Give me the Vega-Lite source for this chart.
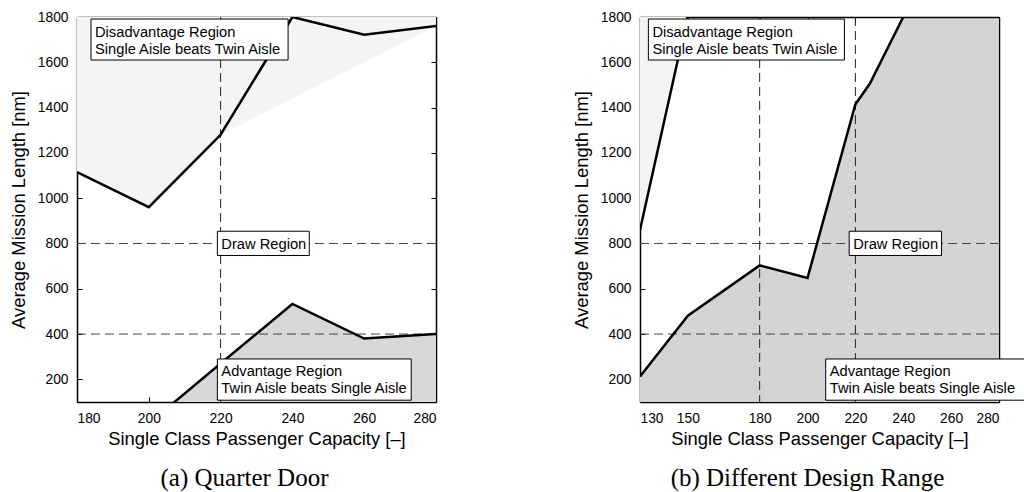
{
  "$schema": "https://vega.github.io/schema/vega-lite/v6.json",
  "background": "white",
  "padding": {"left": 9, "top": 10, "right": 0, "bottom": 0},
  "spacing": 135,
  "config": {
    "font": "Liberation Sans",
    "view": {"stroke": null},
    "axis": {
      "grid": false, "domainColor": "black", "domainWidth": 1.5,
      "tickColor": "black", "tickSize": -5, "labelColor": "black", "titleColor": "black",
      "labelFont": "Liberation Sans", "titleFont": "Liberation Sans",
      "labelFontSize": 13.8, "titleFontSize": 18.4, "titleFontWeight": "normal",
      "labelPadding": 14, "format": "d"
    },
    "axisY": {"titlePadding": 9},
    "axisX": {"titlePadding": 5},
    "title": {"font": "Liberation Serif", "fontSize": 25, "fontWeight": "normal", "color": "black"}
  },
  "datasets": {
    "a_dis_fill": [{"x": 180, "y": 1115}, {"x": 200, "y": 960}, {"x": 220, "y": 1280}, {"x": 280, "y": 1760}],
    "a_dis_line": [{"x": 180, "y": 1115}, {"x": 200, "y": 960}, {"x": 220, "y": 1280}, {"x": 240, "y": 1800}, {"x": 260, "y": 1722}, {"x": 280, "y": 1760}],
    "a_adv": [{"x": 200, "y": 5}, {"x": 220, "y": 270}, {"x": 240, "y": 533}, {"x": 260, "y": 380}, {"x": 280, "y": 400}],
    "a_h": [{"y": 800}, {"y": 400}],
    "a_v": [{"x": 220}],
    "a_ann": [
      {"x1": 183.9, "x2": 238.8, "ylo": 1610, "yhi": 1791, "label": "Disadvantage Region\n\u00a0Single Aisle beats Twin Aisle"},
      {"x1": 219.1, "x2": 244.7, "ylo": 747, "yhi": 854, "label": "Draw Region"},
      {"x1": 219.1, "x2": 273.1, "ylo": 108, "yhi": 290, "label": "Advantage Region\n\u00a0Twin Aisle beats Single Aisle"}
    ],
    "b_dis": [{"x": 130, "y": 860}, {"x": 150, "y": 1810}],
    "b_adv": [{"x": 130, "y": 213}, {"x": 150, "y": 481}, {"x": 180, "y": 703}, {"x": 200, "y": 648}, {"x": 220, "y": 1415}, {"x": 226, "y": 1505}, {"x": 240, "y": 1800}, {"x": 260, "y": 1800}, {"x": 280, "y": 1800}],
    "b_h": [{"y": 800}, {"y": 400}],
    "b_v": [{"x": 180}, {"x": 220}],
    "b_ann": [
      {"x1": 133.5, "x2": 215.4, "ylo": 1610, "yhi": 1791, "label": "Disadvantage Region\n\u00a0Single Aisle beats Twin Aisle"},
      {"x1": 217.4, "x2": 256, "ylo": 747, "yhi": 854, "label": "Draw Region"},
      {"x1": 207.6, "x2": 292, "ylo": 108, "yhi": 290, "label": "Advantage Region\n\u00a0Twin Aisle beats Single Aisle"}
    ]
  },
  "hconcat": [
    {
      "width": 359, "height": 385,
      "title": {"text": "(a) Quarter Door", "orient": "bottom", "dx": -12, "offset": 18},
      "resolve": {"axis": {"x": "independent", "y": "independent"}},
      "layer": [
        {
          "layer": [
            {
              "data": {"name": "a_dis_fill"},
              "mark": {"type": "area", "clip": true, "color": "#f4f4f4"},
              "encoding": {
                "x": {"field": "x", "type": "quantitative", "scale": {"domain": [180, 280], "nice": false, "zero": false},
                      "axis": {"values": [180, 200, 220, 240, 260, 280], "title": "Single Class Passenger Capacity [–]"}},
                "y": {"field": "y", "type": "quantitative", "scale": {"domain": [100, 1800], "nice": false, "zero": false},
                      "axis": {"values": [200, 400, 600, 800, 1000, 1200, 1400, 1600, 1800], "title": "Average Mission Length [nm]"}},
                "y2": {"datum": 1800}
              }
            },
            {
              "data": {"name": "a_adv"},
              "mark": {"type": "area", "clip": true, "color": "#d8d8d8"},
              "encoding": {
                "x": {"field": "x", "type": "quantitative"},
                "y": {"field": "y", "type": "quantitative"},
                "y2": {"datum": 100}
              }
            },
            {
              "data": {"name": "a_h"},
              "mark": {"type": "rule", "color": "#444444", "strokeDash": [9, 5], "strokeWidth": 1},
              "encoding": {"y": {"field": "y", "type": "quantitative"}}
            },
            {
              "data": {"name": "a_v"},
              "mark": {"type": "rule", "color": "#222222", "strokeDash": [9, 5], "strokeWidth": 1},
              "encoding": {"x": {"field": "x", "type": "quantitative"}}
            },
            {
              "data": {"name": "a_dis_line"},
              "mark": {"type": "line", "clip": true, "color": "black", "strokeWidth": 2.5},
              "encoding": {"x": {"field": "x", "type": "quantitative"}, "y": {"field": "y", "type": "quantitative"}}
            },
            {
              "data": {"name": "a_adv"},
              "mark": {"type": "line", "clip": true, "color": "black", "strokeWidth": 2.5},
              "encoding": {"x": {"field": "x", "type": "quantitative"}, "y": {"field": "y", "type": "quantitative"}}
            },
            {
              "data": {"name": "a_ann"},
              "mark": {"type": "rect", "fill": "white", "stroke": "black", "strokeWidth": 1},
              "encoding": {
                "x": {"field": "x1", "type": "quantitative"}, "x2": {"field": "x2"},
                "y": {"field": "yhi", "type": "quantitative"}, "y2": {"field": "ylo"}
              }
            },
            {
              "data": {"name": "a_ann"},
              "mark": {"type": "text", "align": "left", "baseline": "alphabetic", "dx": 4, "dy": 17.5, "lineBreak": "\n", "lineHeight": 17, "fontSize": 14.7, "font": "Liberation Sans", "color": "black"},
              "encoding": {
                "x": {"field": "x1", "type": "quantitative"},
                "y": {"field": "yhi", "type": "quantitative"},
                "text": {"field": "label"}
              }
            }
          ]
        },
        {
          "data": {"name": "a_h"},
          "mark": {"type": "point", "opacity": 0},
          "encoding": {
            "x": {"datum": 200, "type": "quantitative", "axis": {"orient": "top", "labels": false, "title": null, "values": [180, 200, 220, 240, 260, 280]}},
            "y": {"field": "y", "type": "quantitative", "axis": {"orient": "right", "labels": false, "title": null, "values": [200, 400, 600, 800, 1000, 1200, 1400, 1600, 1800]}}
          }
        }
      ]
    },
    {
      "width": 359, "height": 385,
      "title": {"text": "(b) Different Design Range", "orient": "bottom", "dx": -12, "offset": 18},
      "resolve": {"axis": {"x": "independent", "y": "independent"}},
      "layer": [
        {
          "layer": [
            {
              "data": {"name": "b_dis"},
              "mark": {"type": "area", "clip": true, "color": "#f4f4f4"},
              "encoding": {
                "x": {"field": "x", "type": "quantitative", "scale": {"domain": [130, 280], "nice": false, "zero": false},
                      "axis": {"values": [130, 150, 180, 200, 220, 240, 260, 280], "title": "Single Class Passenger Capacity [–]"}},
                "y": {"field": "y", "type": "quantitative", "scale": {"domain": [100, 1800], "nice": false, "zero": false},
                      "axis": {"values": [200, 400, 600, 800, 1000, 1200, 1400, 1600, 1800], "title": "Average Mission Length [nm]"}},
                "y2": {"datum": 1800}
              }
            },
            {
              "data": {"name": "b_adv"},
              "mark": {"type": "area", "clip": true, "color": "#d4d4d4"},
              "encoding": {
                "x": {"field": "x", "type": "quantitative"},
                "y": {"field": "y", "type": "quantitative"},
                "y2": {"datum": 100}
              }
            },
            {
              "data": {"name": "b_h"},
              "mark": {"type": "rule", "color": "#444444", "strokeDash": [9, 5], "strokeWidth": 1},
              "encoding": {"y": {"field": "y", "type": "quantitative"}}
            },
            {
              "data": {"name": "b_v"},
              "mark": {"type": "rule", "color": "#222222", "strokeDash": [9, 5], "strokeWidth": 1},
              "encoding": {"x": {"field": "x", "type": "quantitative"}}
            },
            {
              "data": {"name": "b_dis"},
              "mark": {"type": "line", "clip": true, "color": "black", "strokeWidth": 2.5},
              "encoding": {"x": {"field": "x", "type": "quantitative"}, "y": {"field": "y", "type": "quantitative"}}
            },
            {
              "data": {"name": "b_adv"},
              "mark": {"type": "line", "clip": true, "color": "black", "strokeWidth": 2.5},
              "encoding": {"x": {"field": "x", "type": "quantitative"}, "y": {"field": "y", "type": "quantitative"}}
            },
            {
              "data": {"name": "b_ann"},
              "mark": {"type": "rect", "fill": "white", "stroke": "black", "strokeWidth": 1},
              "encoding": {
                "x": {"field": "x1", "type": "quantitative"}, "x2": {"field": "x2"},
                "y": {"field": "yhi", "type": "quantitative"}, "y2": {"field": "ylo"}
              }
            },
            {
              "data": {"name": "b_ann"},
              "mark": {"type": "text", "align": "left", "baseline": "alphabetic", "dx": 4, "dy": 17.5, "lineBreak": "\n", "lineHeight": 17, "fontSize": 14.7, "font": "Liberation Sans", "color": "black"},
              "encoding": {
                "x": {"field": "x1", "type": "quantitative"},
                "y": {"field": "yhi", "type": "quantitative"},
                "text": {"field": "label"}
              }
            }
          ]
        },
        {
          "data": {"name": "b_h"},
          "mark": {"type": "point", "opacity": 0},
          "encoding": {
            "x": {"datum": 200, "type": "quantitative", "axis": {"orient": "top", "labels": false, "title": null, "values": [130, 150, 180, 200, 220, 240, 260, 280]}},
            "y": {"field": "y", "type": "quantitative", "axis": {"orient": "right", "labels": false, "title": null, "values": [200, 400, 600, 800, 1000, 1200, 1400, 1600, 1800]}}
          }
        }
      ]
    }
  ]
}
